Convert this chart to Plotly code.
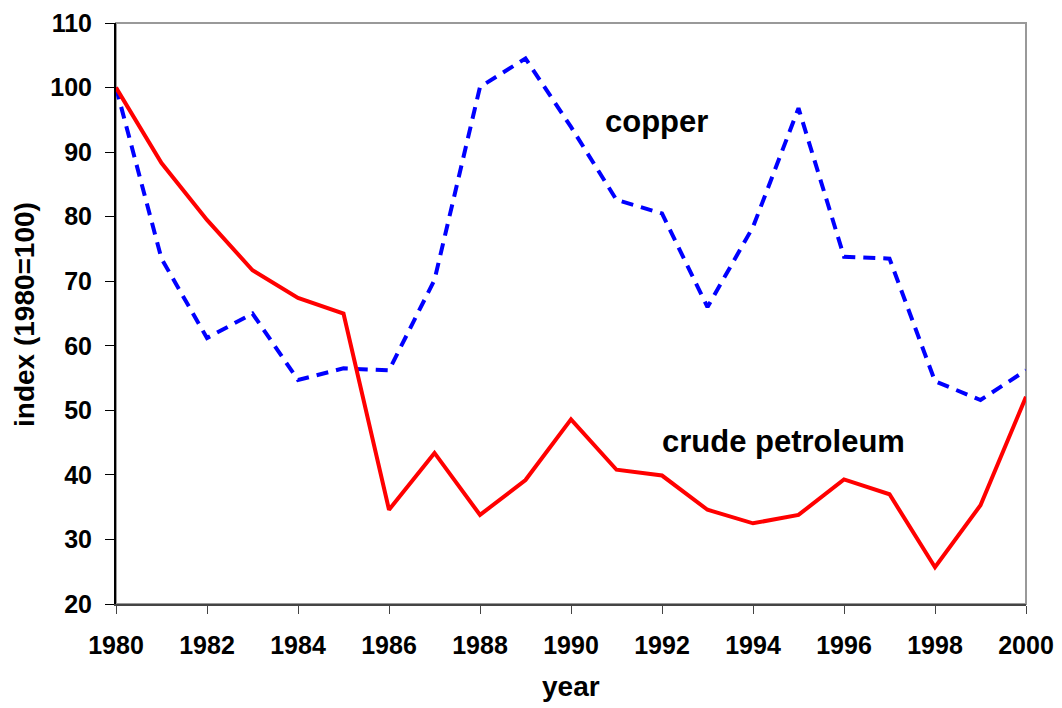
import plotly.graph_objects as go

years = list(range(1980, 2001))
crude_petroleum = [100, 88.3, 79.5, 71.7, 67.4, 65.0, 34.6, 43.4, 33.8, 39.2, 48.6,
                   40.8, 39.9, 34.6, 32.5, 33.8, 39.3, 37.0, 25.7, 35.3, 52.1]
copper = [100, 73.5, 61.2, 65.0, 54.7, 56.5, 56.2, 70.2, 100.1, 104.5, 93.9,
          82.6, 80.5, 66.0, 78.4, 96.8, 73.8, 73.5, 54.5, 51.6, 56.2]
x_ticks = list(range(1980, 2001, 2))
y_ticks = list(range(20, 111, 10))

FONT = "Liberation Sans, Arial, sans-serif"

plot_l, plot_r, plot_t, plot_b = 116, 1026, 23, 604
W, H = 1062, 708


def px_to_paper(px, py):
    return (px - plot_l) / (plot_r - plot_l), (plot_b - py) / (plot_b - plot_t)


fig = go.Figure()
fig.add_trace(go.Scatter(x=years, y=copper, mode="lines", name="copper",
                         line=dict(color="#0000FF", width=4, dash="12px,8px")))
fig.add_trace(go.Scatter(x=years, y=crude_petroleum, mode="lines", name="crude petroleum",
                         line=dict(color="#FF0000", width=4)))

fig.add_shape(type="rect", xref="paper", yref="paper", x0=0, y0=0, x1=1, y1=1,
              line=dict(color="#999999", width=2), layer="below")

year_x, year_y = px_to_paper(571, 686)
idx_x, idx_y = px_to_paper(24, 315)

fig.update_layout(
    width=W, height=H,
    margin=dict(l=plot_l, r=W - plot_r, t=plot_t, b=H - plot_b, autoexpand=False),
    paper_bgcolor="white", plot_bgcolor="white",
    showlegend=False,
    font=dict(family=FONT, color="black"),
    xaxis=dict(range=[1980, 2000], tickvals=x_ticks, ticktext=[str(t) for t in x_ticks],
               showgrid=False, zeroline=False, showline=True, linecolor="#444444", linewidth=2,
               ticks="outside", ticklen=8, tickwidth=1, tickcolor="#444444",
               ticklabelstandoff=10,
               tickfont=dict(family=FONT, size=25, color="black", weight="bold")),
    yaxis=dict(range=[20, 110], tickvals=y_ticks, ticktext=[str(t) for t in y_ticks],
               showgrid=False, zeroline=False, showline=True, linecolor="black", linewidth=2,
               ticks="outside", ticklen=9, tickwidth=1, tickcolor="black",
               ticklabelstandoff=8,
               tickfont=dict(family=FONT, size=25, color="black", weight="bold")),
    annotations=[
        dict(x=1991.87, y=94.7, xref="x", yref="y", text="<b>copper</b>", showarrow=False,
             xanchor="center", yanchor="middle",
             font=dict(family=FONT, size=31, color="black")),
        dict(x=1994.66, y=45.1, xref="x", yref="y", text="<b>crude petroleum</b>", showarrow=False,
             xanchor="center", yanchor="middle",
             font=dict(family=FONT, size=31, color="black")),
        dict(x=year_x, y=year_y, xref="paper", yref="paper", text="<b>year</b>", showarrow=False,
             xanchor="center", yanchor="middle",
             font=dict(family=FONT, size=28, color="black")),
        dict(x=idx_x, y=idx_y, xref="paper", yref="paper", text="<b>index (1980=100)</b>",
             showarrow=False, xanchor="center", yanchor="middle",
             textangle=-90, font=dict(family=FONT, size=28, color="black")),
    ],
)

fig.write_html("out.html", config={"displayModeBar": False},
               post_script="document.body.style.margin='0';")
